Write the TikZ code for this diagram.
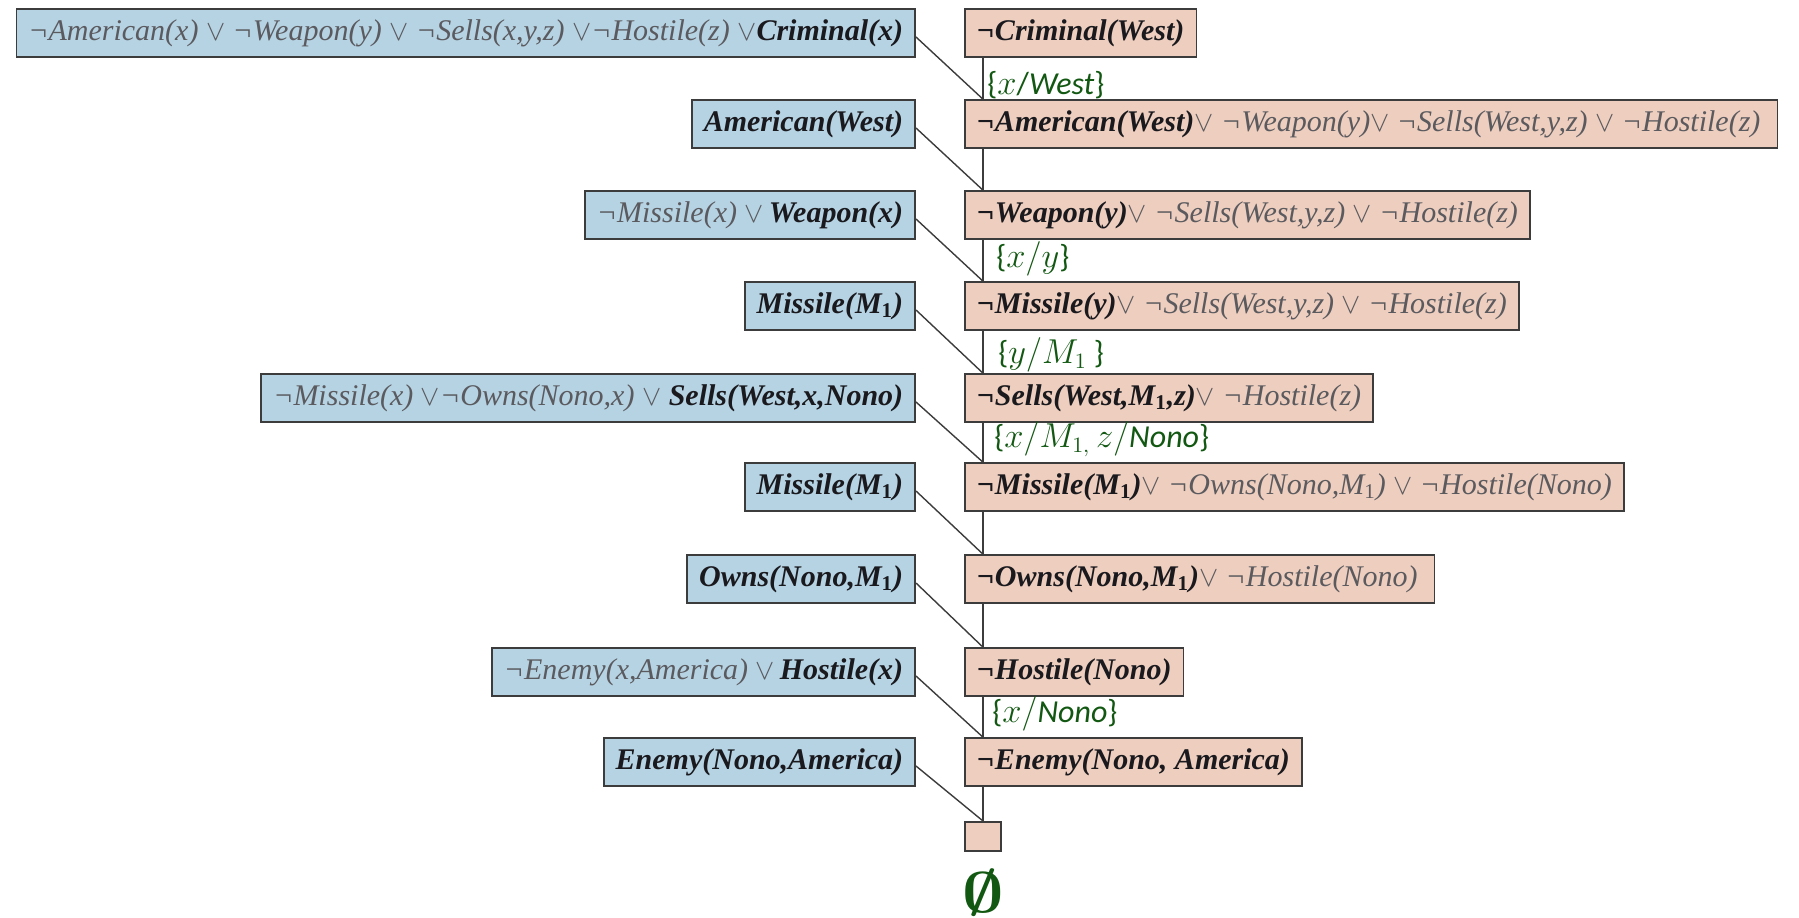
\documentclass[tikz,border=0pt]{standalone}
\usepackage{fontspec}
\usepackage{graphicx}
\newfontfamily\cfont{Liberation Serif}
\newfontfamily\lblfont{Carlito}
\definecolor{kbblue}{RGB}{182,211,227}
\definecolor{goalpink}{RGB}{238,206,190}
\definecolor{linec}{RGB}{60,60,60}
\definecolor{boldc}{RGB}{25,25,30}
\definecolor{lightc}{RGB}{90,90,95}
\definecolor{substgreen}{RGB}{18,88,18}
\newcommand\B[1]{{\bfseries\color{boldc}#1}}
\newcommand\OR{$\vee$}
\newcommand\one{\textsubscript{\upshape 1}}
\tikzset{
  clause/.style={draw=linec, line width=0.8pt, minimum height=24pt, inner xsep=6pt, inner ysep=0pt,
    font=\cfont\itshape\fontsize{15}{18}\selectfont, text=lightc},
  kb/.style={clause, fill=kbblue, anchor=east},
  goal/.style={clause, fill=goalpink, anchor=west},
  link/.style={draw=linec, line width=0.7pt},
  subst/.style={text=substgreen, font=\lblfont\fontsize{16}{19}\selectfont, anchor=west, inner sep=0pt},
}
\begin{document}
\begin{tikzpicture}[x=0.5pt,y=-0.5pt]
\useasboundingbox (0,0) rectangle (1799,917);
\coordinate (spine) at (983,0);
% knowledge-base clauses (blue)
\node[kb] (b1) at (916,33) {¬American(x) \OR{} ¬Weapon(y) \OR{} ¬Sells(x,y,z) \OR¬Hostile(z) \OR\B{Criminal(x)}};
\node[kb] (b2) at (916,124) {\B{American(West)}};
\node[kb] (b3) at (916,215) {¬Missile(x) \OR\,\B{Weapon(x)}};
\node[kb] (b4) at (916,306) {\B{Missile(M\one)}};
\node[kb] (b5) at (916,398) {¬Missile(x) \OR¬Owns(Nono,x) \OR{} \B{Sells(West,x,Nono)}};
\node[kb] (b6) at (916,487) {\B{Missile(M\one)}};
\node[kb] (b7) at (916,579) {\B{Owns(Nono,M\one)}};
\node[kb] (b8) at (916,672) {¬Enemy(x,America) \OR\,\B{Hostile(x)}};
\node[kb] (b9) at (916,762) {\B{Enemy(Nono,America)}};
% goal clauses (pink)
\node[goal] (p1) at (964,33) {\B{¬Criminal(West)}};
\node[goal] (p2) at (964,124) {\B{¬American(West)}\OR{} ¬Weapon(y)\OR{} ¬Sells(West,y,z) \OR{} ¬Hostile(z)\,};
\node[goal] (p3) at (964,215) {\B{¬Weapon(y)}\OR{} ¬Sells(West,y,z) \OR{} ¬Hostile(z)};
\node[goal] (p4) at (964,306) {\B{¬Missile(y)}\OR{} ¬Sells(West,y,z) \OR{} ¬Hostile(z)};
\node[goal] (p5) at (964,398) {\B{¬Sells(West,M\one,z)}\OR{} ¬Hostile(z)};
\node[goal] (p6) at (964,487) {\B{¬Missile(M\one)}\OR{} ¬Owns(Nono,M\one) \OR{} ¬Hostile(Nono)};
\node[goal] (p7) at (964,579) {\B{¬Owns(Nono,M\one)}\OR{} ¬Hostile(Nono)\,};
\node[goal] (p8) at (964,672) {\B{¬Hostile(Nono)}};
\node[goal] (p9) at (964,762) {\B{¬Enemy(Nono, America)}};
\node[draw=linec, line width=0.8pt, fill=goalpink, anchor=north west, minimum width=18pt, minimum height=14.5pt, inner sep=0pt] (p10) at (964,821) {};
% spine
\foreach \a/\b in {p1/p2,p2/p3,p3/p4,p4/p5,p5/p6,p6/p7,p7/p8,p8/p9,p9/p10}
  \draw[link] (\a.south -| spine) -- (\b.north -| spine);
% diagonals
\foreach \a/\b in {b1/p2,b2/p3,b3/p4,b4/p5,b5/p6,b6/p7,b7/p8,b8/p9,b9/p10}
  \draw[link] ([yshift=-2pt]\a.east) -- (\b.north -| spine);
% substitutions
\node[subst] (s1) at (987,85) {\{$x$/\textit{West}\}};
\node[subst] (s2) at (996,259) {\{$x/y$\}};
\node[subst] (s3) at (998,355) {\{$y/M_1$ \}};
\node[subst] (s4) at (994,439) {\{$x/M_{1,}\,z/$\textit{Nono}\}};
\node[subst] (s5) at (992,714) {\{$x/$\textit{Nono}\}};
\node[text=substgreen, font=\boldmath\fontsize{34}{38}\selectfont, inner sep=0pt] (nil) at (983,893) {\scalebox{1.45}[1.15]{$\emptyset$}};
\end{tikzpicture}
\end{document}
